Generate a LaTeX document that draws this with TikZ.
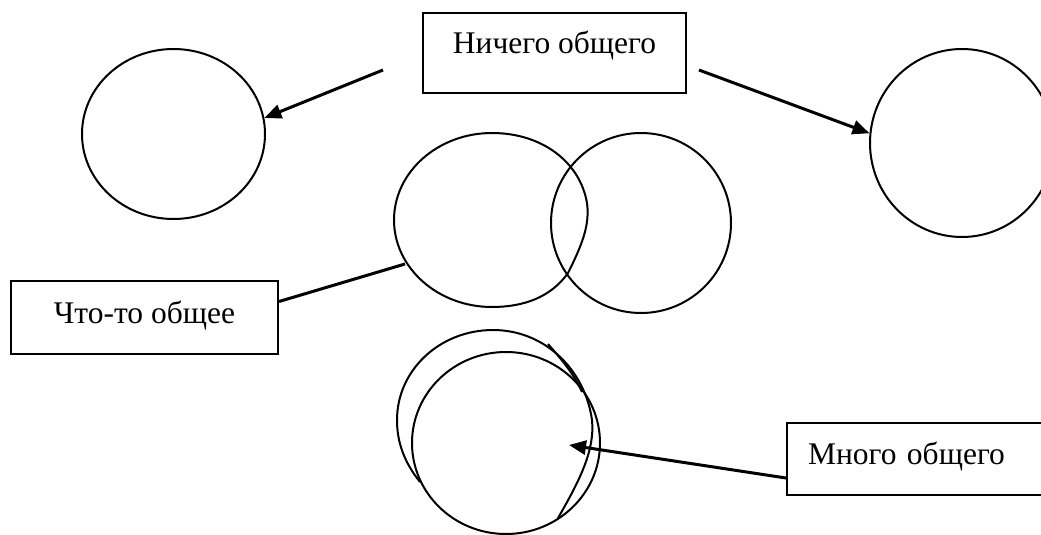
\documentclass[tikz,border=0pt]{standalone}
\usepackage{fontspec}
\newfontfamily\labelfont{Liberation Serif}
\usetikzlibrary{arrows.meta,shapes.geometric}
\begin{document}
\begin{tikzpicture}[x=1pt,y=-1pt,
    ring/.style={draw, ellipse, line width=2pt, inner sep=0pt},
    labelbox/.style={draw, rectangle, line width=2pt, inner sep=0pt, anchor=north west,
      font=\labelfont\fontsize{31.5}{38}\selectfont},
    pointer/.style={line width=3pt, -{Triangle[length=17pt,width=14pt]}},
    link/.style={line width=3pt}]
  \useasboundingbox (0,0) rectangle (1041,535);
  \clip (0,0) rectangle (1041,535);
  % boxes
  \node[labelbox, minimum width=263pt, text height=41pt, text depth=39pt] (nothing) at (422,12) {Ничего общего};
  \node[labelbox, minimum width=267pt, text height=42pt, text depth=31pt] (some) at (10,280) {Что-то общее};
  \node[labelbox, inner xsep=21pt, text width=250pt, align=left, text height=41pt, text depth=31pt] (much) at (786,422) {Много общего};
  % circles
  \node[ring, minimum width=183pt, minimum height=170pt] (lc) at (173.5,134) {};
  \node[ring, minimum width=184pt, minimum height=188pt] (rc) at (962,143) {};
  \node[ring, minimum width=180pt, minimum height=180pt] (mr) at (641,223) {};
  \node[ring, minimum width=188pt, minimum height=182pt] (bi) at (506,443) {};
  % hand drawn
  \draw[line width=2pt, line join=round] (492,133) .. controls (542,133) and (580,162) .. (587,203)
    .. controls (590,225) and (582,245) .. (568,273) .. controls (551,297) and (524,307) .. (492,307)
    .. controls (438,307) and (394,268) .. (394,220) .. controls (394,172) and (438,133) .. (492,133) -- cycle;
  \draw[line width=2pt] (420,482) .. controls (404,462) and (397,442) .. (397,420)
    .. controls (397,370) and (440,330) .. (493,330) .. controls (545,330) and (585,370) .. (592,420)
    .. controls (595,450) and (580,480) .. (558,518);
  \draw[line width=2pt] (548,344) .. controls (562,360) and (574,374) .. (582,392);
  \coordinate (ml) at (405,264);
  \coordinate (mtip) at (569,445);
  \coordinate (n1) at ([xshift=-39pt,yshift=-17pt]nothing.west);
  \coordinate (n2) at ([xshift=12pt,yshift=-17pt]nothing.east);
  % connectors
  \draw[pointer] (n1) -- (lc.10);
  \draw[pointer] (n2) -- (rc.174);
  \draw[link] ([yshift=16pt]some.east) -- (ml);
  \draw[pointer] ([yshift=-19pt]much.west) -- (mtip);
\end{tikzpicture}
\end{document}
